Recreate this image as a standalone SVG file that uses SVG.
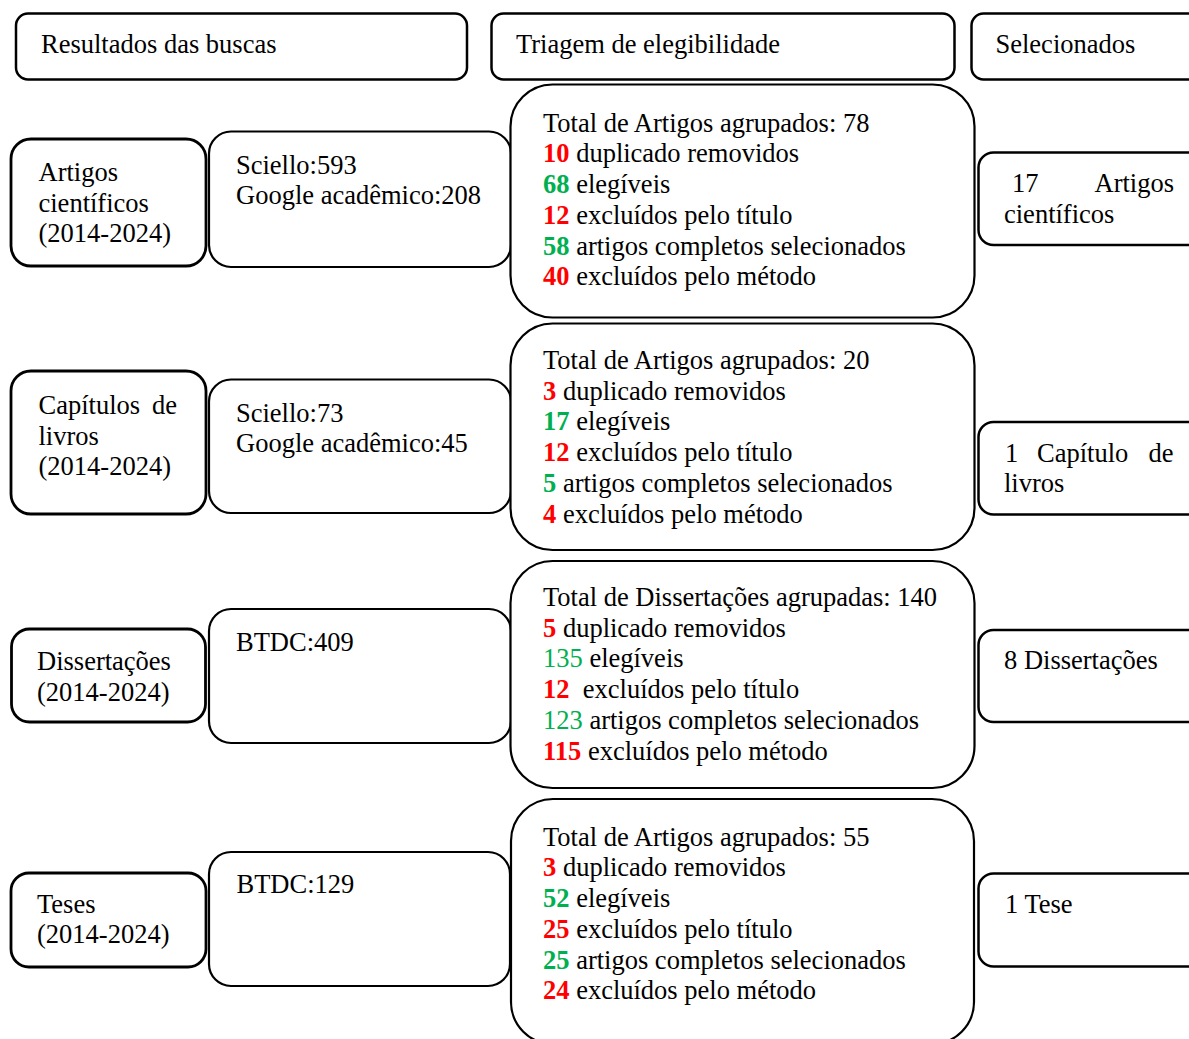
<svg xmlns="http://www.w3.org/2000/svg" width="1189" height="1039" viewBox="0 0 1189 1039">
<style>
  .box { fill: #ffffff; stroke: #000000; stroke-width: 2.5; }
  .thick { stroke-width: 2.8; }
  .thin { stroke-width: 2.2; }
  text { font-family: "Liberation Serif", "Times New Roman", serif; font-size: 26.5px; fill: #000000; }
  .r { fill: #ff0000; font-weight: bold; }
  .g { fill: #00b050; font-weight: bold; }
  .gn { fill: #00b050; }
</style>
<rect width="1189" height="1039" fill="#ffffff"/>
<g id="connectors"></g>

<g id="header-resultados">
  <rect class="box" x="16" y="13.5" width="451" height="66" rx="12"/>
  <text x="41" y="53">Resultados das buscas</text>
</g>
<g id="header-triagem">
  <rect class="box" x="491.5" y="13.5" width="463" height="66" rx="12"/>
  <text x="516" y="53">Triagem de elegibilidade</text>
</g>
<g id="header-selecionados">
  <rect class="box" x="971.5" y="13.5" width="240" height="66" rx="12"/>
  <text x="995.5" y="53">Selecionados</text>
</g>

<!-- Row 1 -->
<g id="artigos-tipo">
  <rect class="box thick" x="11" y="139" width="195" height="127" rx="20"/>
  <text x="38.5" y="181">Artigos</text>
  <text x="38.5" y="211.7">científicos</text>
  <text x="38.5" y="242.4">(2014-2024)</text>
</g>
<g id="artigos-busca">
  <rect class="box thin" x="209" y="131.5" width="302" height="135.5" rx="22"/>
  <text x="236" y="173.5">Sciello:593</text>
  <text x="236" y="204.2">Google acadêmico:208</text>
</g>
<g id="artigos-triagem">
  <rect class="box thin" x="510.5" y="84.5" width="464" height="233" rx="42"/>
  <text x="543" y="131.7">Total de Artigos agrupados: 78</text>
  <text x="543" y="162.4"><tspan class="r">10</tspan> duplicado removidos</text>
  <text x="543" y="193.1"><tspan class="g">68</tspan> elegíveis</text>
  <text x="543" y="223.8"><tspan class="r">12</tspan> excluídos pelo título</text>
  <text x="543" y="254.5"><tspan class="g">58</tspan> artigos completos selecionados</text>
  <text x="543" y="285.2"><tspan class="r">40</tspan> excluídos pelo método</text>
</g>
<g id="artigos-selecionados">
  <rect class="box" x="978.5" y="152.5" width="240" height="92.5" rx="15"/>
  <text x="1012" y="192">17</text>
  <text x="1174" y="192" text-anchor="end">Artigos</text>
  <text x="1004" y="222.7">científicos</text>
</g>

<!-- Row 2 -->
<g id="capitulos-tipo">
  <rect class="box thick" x="11" y="371" width="195" height="143" rx="20"/>
  <text x="38.5" y="414">Capítulos</text>
  <text x="177" y="414" text-anchor="end">de</text>
  <text x="38.5" y="444.7">livros</text>
  <text x="38.5" y="475.4">(2014-2024)</text>
</g>
<g id="capitulos-busca">
  <rect class="box thin" x="209" y="379.5" width="302" height="133.5" rx="22"/>
  <text x="236" y="421.7">Sciello:73</text>
  <text x="236" y="452.4">Google acadêmico:45</text>
</g>
<g id="capitulos-triagem">
  <rect class="box thin" x="510.5" y="323.5" width="464" height="226.5" rx="42"/>
  <text x="543" y="369">Total de Artigos agrupados: 20</text>
  <text x="543" y="399.7"><tspan class="r">3</tspan> duplicado removidos</text>
  <text x="543" y="430.4"><tspan class="g">17</tspan> elegíveis</text>
  <text x="543" y="461.1"><tspan class="r">12</tspan> excluídos pelo título</text>
  <text x="543" y="491.8"><tspan class="g">5</tspan> artigos completos selecionados</text>
  <text x="543" y="522.5"><tspan class="r">4</tspan> excluídos pelo método</text>
</g>
<g id="capitulos-selecionados">
  <rect class="box" x="978.5" y="422" width="240" height="92.5" rx="15"/>
  <text x="1005" y="461.7">1</text>
  <text x="1037" y="461.7">Capítulo</text>
  <text x="1173.5" y="461.7" text-anchor="end">de</text>
  <text x="1004" y="492.4">livros</text>
</g>

<!-- Row 3 -->
<g id="dissertacoes-tipo">
  <rect class="box thick" x="11.5" y="629" width="194" height="93" rx="18"/>
  <text x="37" y="670">Dissertações</text>
  <text x="37" y="700.7">(2014-2024)</text>
</g>
<g id="dissertacoes-busca">
  <rect class="box thin" x="209" y="609" width="302" height="134" rx="22"/>
  <text x="236" y="650.7">BTDC:409</text>
</g>
<g id="dissertacoes-triagem">
  <rect class="box thin" x="510.5" y="561" width="464" height="227" rx="42"/>
  <text x="543" y="606">Total de Dissertações agrupadas: 140</text>
  <text x="543" y="636.7"><tspan class="r">5</tspan> duplicado removidos</text>
  <text x="543" y="667.4"><tspan class="gn">135</tspan> elegíveis</text>
  <text x="543" y="698.1"><tspan class="r">12</tspan>&#160; excluídos pelo título</text>
  <text x="543" y="728.8"><tspan class="gn">123</tspan> artigos completos selecionados</text>
  <text x="543" y="759.5"><tspan class="r">115</tspan> excluídos pelo método</text>
</g>
<g id="dissertacoes-selecionados">
  <rect class="box" x="978.5" y="630" width="240" height="92" rx="15"/>
  <text x="1004" y="669.3">8 Dissertações</text>
</g>

<!-- Row 4 -->
<g id="teses-tipo">
  <rect class="box thick" x="11" y="873" width="195" height="94" rx="18"/>
  <text x="37" y="912.7">Teses</text>
  <text x="37" y="943.4">(2014-2024)</text>
</g>
<g id="teses-busca">
  <rect class="box thin" x="209" y="852" width="301" height="134" rx="22"/>
  <text x="236.5" y="893.3">BTDC:129</text>
</g>
<g id="teses-triagem">
  <rect class="box thin" x="511" y="799" width="463" height="245" rx="42"/>
  <text x="543" y="845.7">Total de Artigos agrupados: 55</text>
  <text x="543" y="876.4"><tspan class="r">3</tspan> duplicado removidos</text>
  <text x="543" y="907.1"><tspan class="g">52</tspan> elegíveis</text>
  <text x="543" y="937.8"><tspan class="r">25</tspan> excluídos pelo título</text>
  <text x="543" y="968.5"><tspan class="g">25</tspan> artigos completos selecionados</text>
  <text x="543" y="999.2"><tspan class="r">24</tspan> excluídos pelo método</text>
</g>
<g id="teses-selecionados">
  <rect class="box" x="978.5" y="873.5" width="240" height="93" rx="15"/>
  <text x="1005" y="912.7">1 Tese</text>
</g>
</svg>
